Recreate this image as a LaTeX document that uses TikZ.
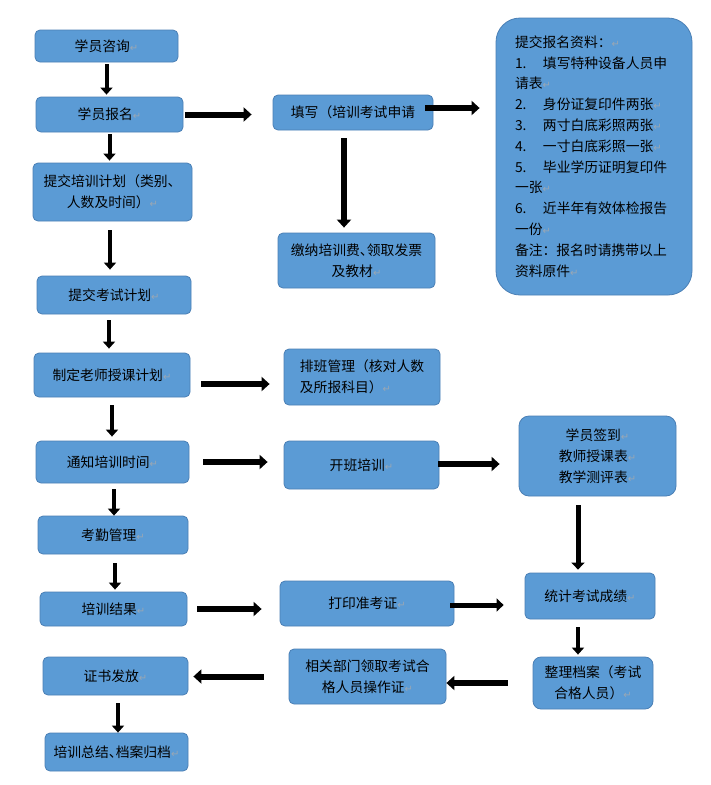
\documentclass[tikz,border=0pt]{standalone}
\usepackage{fontspec}
\setmainfont{Noto Sans CJK SC}
\newfontfamily\dejavu{DejaVu Sans}
\usetikzlibrary{arrows.meta,calc}
\definecolor{boxfill}{HTML}{5B9BD5}
\definecolor{boxline}{HTML}{4A7FB5}
\definecolor{retgray}{HTML}{9AA7B4}
\newcommand{\rt}{{\color{retgray}\dejavu\fontsize{10}{10}\selectfont ↵}}
\newcommand{\num}[1]{\makebox[28pt][l]{#1}}
\newcommand{\dun}{\makebox[7pt][l]{、}}
\tikzset{
  box/.style={draw=boxline, fill=boxfill, line width=0.8pt, rounded corners=5pt,
    inner sep=2pt, align=center, text=black, font=\fontsize{13.8}{21}\selectfont},
  wh/.style 2 args={minimum width=#1pt, minimum height=#2pt},
  thickarr/.style={line width=6pt, -{Triangle[length=8pt,width=14pt]}},
  midarr/.style={line width=5pt, -{Triangle[length=7pt,width=13pt]}},
  thinarr/.style={line width=4pt, -{Triangle[length=7pt,width=12pt]}},
}
\begin{document}
\begin{tikzpicture}[x=1pt,y=-1pt]
\useasboundingbox (0,0) rectangle (710,785);
\fill[white] (0,0) rectangle (710,785);

% left column
\node[box, wh={143}{32}] (zixun) at (106.5,46) {学员咨询\rt};
\node[box, wh={147}{35}] (baoming) at (109.5,114.5) {学员报名\rt};
\node[box, wh={159}{58}] (jihua) at (112.5,192) {提交培训计划（类别、\\人数及时间）\rt};
\node[box, wh={154}{38}] (kaoshi) at (114,295) {提交考试计划\rt};
\node[box, wh={156}{44}] (zhiding) at (112,375) {制定老师授课计划\rt};
\node[box, wh={153}{42}] (tongzhi) at (112.5,462) {通知培训时间\rt};
\node[box, wh={150}{38}] (kaoqin) at (113,535) {考勤管理\rt};
\node[box, wh={147}{34}] (jieguo) at (113.5,609) {培训结果\rt};
\node[box, wh={145}{38}] (zhengshu) at (115.5,676) {证书发放\rt};
\node[box, wh={143}{38}] (zongjie) at (116.5,752) {培训总结\dun 档案归档\rt};

% middle column
\node[box, wh={160}{35}] (tianxie) at (353,112.5) {填写（培训考试申请};
\node[box, wh={157}{55}] (jiaona) at (356.5,260.5) {缴纳培训费\dun 领取发票\\及教材\rt};
\node[box, wh={156}{56}, align=left] (paiban) at (362,377) {排班管理（核对人数\\及所报科目）\rt};
\node[box, wh={155}{48}] (kaiban) at (361.5,465) {开班培训\rt};
\node[box, wh={174}{45}] (dayin) at (367,603.5) {打印准考证\rt};
\node[box, wh={157}{55}] (xiangguan) at (367.5,676.5) {相关部门领取考试合\\格人员操作证\rt};

% right column
\node[box, rounded corners=24pt, wh={196}{277}, align=left, text width=158pt,
  font=\fontsize{13.8}{20.8}\selectfont] (ziliao) at (594,156.5) {%
提交报名资料：\rt\\
\num{1.}填写特种设备人员申\\
请表\rt\\
\num{2.}身份证复印件两张\rt\\
\num{3.}两寸白底彩照两张\rt\\
\num{4.}一寸白底彩照一张\rt\\
\num{5.}毕业学历证明复印件\\
一张\rt\\
\num{6.}近半年有效体检报告\\
一份\rt\\
备注：报名时请携带以上\\
资料原件\rt};
\node[box, wh={157}{80}, rounded corners=10pt] (qiandao) at (597.5,456) {学员签到\rt\\教师授课表\rt\\教学测评表\rt};
\node[box, wh={130}{46}] (tongji) at (590,596) {统计考试成绩\rt};
\node[box, wh={120}{52}, rounded corners=8pt] (zhengli) at (593,683) {整理档案（考试\\合格人员）\rt};

% left column arrows
\draw[thinarr, shorten <=2pt, shorten >=2pt] (zixun.south) -- (zixun.south |- baoming.north);
\draw[thinarr, shorten <=2pt, shorten >=2pt] (baoming.south) -- (baoming.south |- jihua.north);
\coordinate (a3s) at ([xshift=-2.5pt]jihua.south);
\draw[thinarr, shorten <=9pt, shorten >=6pt] (a3s) -- (a3s |- kaoshi.north);
\coordinate (a4s) at ([xshift=-5pt]kaoshi.south);
\draw[thinarr, shorten <=6pt, shorten >=4pt] (a4s) -- (a4s |- zhiding.north);
\draw[thinarr, shorten <=8pt, shorten >=4pt] (zhiding.south) -- (zhiding.south |- tongzhi.north);
\coordinate (a6s) at ([xshift=1.5pt]tongzhi.south);
\draw[thinarr, shorten <=6pt, shorten >=0pt] (a6s) -- (a6s |- kaoqin.north);
\coordinate (a7s) at ([xshift=2pt]kaoqin.south);
\draw[thinarr, shorten <=9pt, shorten >=2pt] (a7s) -- (a7s |- jieguo.north);
\coordinate (a20s) at ([xshift=2.5pt]zhengshu.south);
\draw[thinarr, shorten <=8pt, shorten >=0pt] (a20s) -- (a20s |- zongjie.north);

% upper arrows
\draw[thickarr, shorten <=2pt, shorten >=21pt] (baoming.east) -- (baoming.east -| tianxie.west);
\coordinate (a9s) at ([yshift=4.5pt]tianxie.east);
\draw[thickarr, shorten <=-8pt, shorten >=16pt] (a9s) -- (a9s -| ziliao.west);
\coordinate (a10s) at ([xshift=-9pt]tianxie.south);
\draw[thickarr, shorten <=8pt, shorten >=5pt] (a10s) -- (a10s |- jiaona.north);

% middle arrows
\coordinate (a11s) at ([yshift=-9pt]zhiding.east);
\draw[thickarr, shorten <=11pt, shorten >=14pt] (a11s) -- (a11s -| paiban.west);
\draw[thickarr, shorten <=14pt, shorten >=16pt] (tongzhi.east) -- (tongzhi.east -| kaiban.west);
\coordinate (a13s) at ([yshift=1pt]kaiban.east);
\draw[thickarr, shorten <=-1pt, shorten >=19pt] (a13s) -- (a13s -| qiandao.west);
\coordinate (a14s) at ([xshift=-19.5pt]qiandao.south);
\draw[midarr, shorten <=9pt, shorten >=3pt] (a14s) -- (a14s |- tongji.north);

% lower arrows
\draw[thickarr, shorten <=10pt, shorten >=18pt] (jieguo.east) -- (jieguo.east -| dayin.west);
\coordinate (a16s) at ([yshift=-1.5pt]dayin.east);
\draw[midarr, shorten <=-4pt, shorten >=21pt] (a16s) -- (a16s -| tongji.west);
\coordinate (a17s) at ([xshift=-12pt]tongji.south);
\draw[thinarr, shorten <=8pt, shorten >=2pt] (a17s) -- (a17s |- zhengli.north);
\draw[thickarr, shorten <=25pt, shorten >=0pt] (zhengli.west) -- (zhengli.west -| xiangguan.east);
\draw[thickarr, shorten <=25pt, shorten >=5pt] (xiangguan.west) -- (xiangguan.west -| zhengshu.east);
\end{tikzpicture}
\end{document}
